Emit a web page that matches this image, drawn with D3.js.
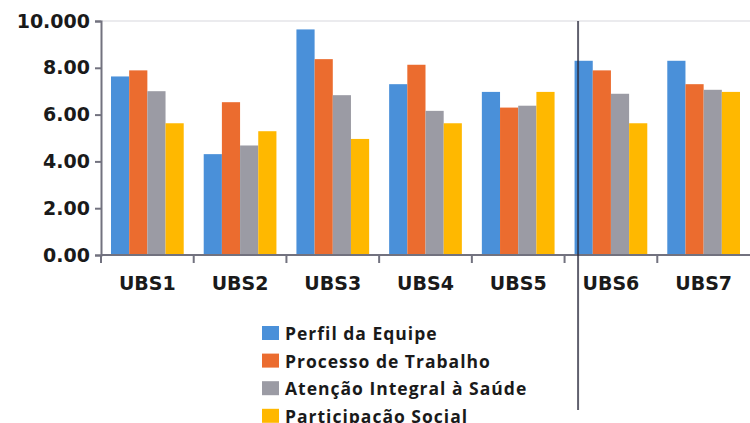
<!DOCTYPE html>
<html>
<head>
<meta charset="utf-8">
<script src="https://cdn.jsdelivr.net/npm/d3@7"></script>
<style>
  body { margin: 0; background: #fff; }
  text { fill: #1a1a1a; }
</style>
</head>
<body>
<svg id="chart" width="750" height="423"></svg>
<script>
// data
const categories = ["UBS1", "UBS2", "UBS3", "UBS4", "UBS5", "UBS6", "UBS7"];
const seriesNames = ["Perfil da Equipe", "Processo de Trabalho", "Atenção Integral à Saúde", "Participação Social"];
const perfil    = [7.63, 4.31, 9.64, 7.30, 6.97, 8.30, 8.30];
const processo  = [7.89, 6.53, 8.37, 8.13, 6.30, 7.89, 7.30];
const atencao   = [7.00, 4.68, 6.83, 6.16, 6.38, 6.89, 7.06];
const participa = [5.63, 5.29, 4.96, 5.63, 6.97, 5.63, 6.97];
const yTicks = [0, 2, 4, 6, 8, 10];
const yTickLabels = ["0.00", "2.00", "4.00", "6.00", "8.00", "10.000"];
const colors = ["#4a90d9", "#eb6c2f", "#9b9ba4", "#ffb800"];

const series = [perfil, processo, atencao, participa];

const svg = d3.select("#chart");
const plotL = 101, plotR = 750, plotT = 21, plotB = 255;

const x0 = d3.scaleBand().domain(categories).range([plotL, plotR]).padding(0);
const step = x0.step();
const x1 = d3.scaleBand().domain(d3.range(series.length)).range([10, step - 10]).padding(0);
const y = d3.scaleLinear().domain([0, 10]).range([plotB, plotT]);

// top grid line
svg.append("line")
  .attr("x1", plotL).attr("x2", plotR)
  .attr("y1", y(10)).attr("y2", y(10))
  .attr("stroke", "#e4e4e8").attr("stroke-width", 1.5);

// bars
const groups = svg.append("g").selectAll("g")
  .data(categories)
  .join("g")
    .attr("transform", d => `translate(${x0(d)},0)`);

groups.selectAll("rect")
  .data((c, i) => series.map((s, k) => ({k, v: s[i]})))
  .join("rect")
    .attr("x", d => x1(d.k))
    .attr("width", x1.bandwidth())
    .attr("y", d => y(d.v))
    .attr("height", d => y(0) - y(d.v))
    .attr("fill", d => colors[d.k]);

// y axis
const yAxis = svg.append("g")
  .attr("transform", `translate(${plotL},0)`)
  .call(d3.axisLeft(y).tickValues(yTicks).tickFormat((d, i) => yTickLabels[i]).tickSize(6).tickPadding(5));
yAxis.select(".domain").attr("stroke", "#72727f").attr("stroke-width", 2);
yAxis.selectAll(".tick line").attr("stroke", "#72727f").attr("stroke-width", 2);
yAxis.selectAll(".tick text")
  .attr("font-family", "DejaVu Sans")
  .attr("font-weight", "bold")
  .attr("font-size", 19)
  .attr("fill", "#1a1a1a");

// x axis: ticks at band boundaries
const xAxis = svg.append("g").attr("transform", `translate(0,${plotB})`);
xAxis.append("line")
  .attr("x1", plotL).attr("x2", plotR)
  .attr("stroke", "#72727f").attr("stroke-width", 2);
xAxis.selectAll(".xt")
  .data(categories)
  .join("line")
    .attr("class", "xt")
    .attr("x1", d => x0(d)).attr("x2", d => x0(d))
    .attr("y1", 0).attr("y2", 8)
    .attr("stroke", "#72727f").attr("stroke-width", 2);
xAxis.selectAll(".xl")
  .data(categories)
  .join("text")
    .attr("class", "xl")
    .attr("x", d => x0(d) + step / 2)
    .attr("y", 35)
    .attr("text-anchor", "middle")
    .attr("font-family", "DejaVu Sans")
    .attr("font-weight", "bold")
    .attr("font-size", 19)
    .text(d => d);

// vertical separator line
const sepX = x0("UBS6") + 13.5;
svg.append("line")
  .attr("x1", sepX).attr("x2", sepX)
  .attr("y1", plotT).attr("y2", 410)
  .attr("stroke", "#2b2b3d").attr("stroke-opacity", 0.75).attr("stroke-width", 2);

// legend
const legend = svg.append("g").attr("transform", "translate(262,326)");
const item = legend.selectAll("g")
  .data(seriesNames)
  .join("g")
    .attr("transform", (d, i) => `translate(0,${i * 27.6})`);
item.append("rect")
  .attr("width", 17).attr("height", 14)
  .attr("fill", (d, i) => colors[i]);
item.append("text")
  .attr("x", 23).attr("y", 14)
  .attr("font-family", "Open Sans")
  .attr("font-weight", 700)
  .attr("font-size", 17.5)
  .attr("letter-spacing", 1)
  .text(d => d);
</script>
</body>
</html>
